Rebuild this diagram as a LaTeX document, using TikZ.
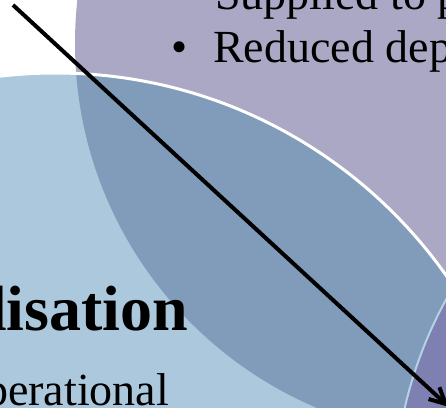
\documentclass[tikz,border=0pt]{standalone}
\usepackage{fontspec}
\setmainfont{Liberation Serif}
\usetikzlibrary{arrows.meta}
\definecolor{lilac}{HTML}{AAA8C5}
\definecolor{paleblue}{HTML}{ACC8DC}
\definecolor{midblue}{HTML}{809CBA}
\definecolor{deeplilac}{HTML}{7F80B2}
\definecolor{rimblue}{HTML}{B4D2E2}
\tikzset{
  bodytext/.style   = {anchor=base west, inner sep=0pt,
                       font=\fontsize{46}{55}\selectfont},
  headtext/.style   = {anchor=base west, inner sep=0pt,
                       font=\fontsize{64}{76}\selectfont\bfseries},
  bulletmark/.style = {anchor=base, inner sep=0pt,
                       font=\fontsize{46}{55}\selectfont},
  pointer/.style    = {line width=4pt, -{Straight Barb[length=16pt, width=16pt]}}
}

\begin{document}
\begin{tikzpicture}[x=1pt, y=-1pt]
  \path[use as bounding box] (0,0) rectangle (446,407);
  \clip (0,0) rectangle (446,407);

  % centres of the three circles
  \coordinate (upper) at (471,43);
  \coordinate (lower) at (55.5,551);
  \coordinate (third) at (817,503);

  \fill[lilac] (upper) circle [radius=396];
  \fill[paleblue] (lower) circle [radius=478];
  \begin{scope}
    \clip (upper) circle [radius=396];
    \fill[midblue] (lower) circle [radius=478];
    \clip (lower) circle [radius=478];
    \fill[deeplilac] (third) circle [radius=423];
  \end{scope}
  \draw[rimblue, line width=2pt] (third) circle [radius=423];
  \draw[white, line width=3pt] (lower) circle [radius=478];

  % texts
  \node[bodytext] (supplied) at (215,9) {Supplied to p};
  \node[bulletmark] (dot) at (180,62) {•};
  \node[bodytext] (reduced) at (213,62) {Reduced dep};
  \node[headtext] (heading) at (-11,330) {lisation};
  \node[bodytext] (operational) at (-38,405) {operational};

  % arrow
  \coordinate (tail) at (13,5);
  \coordinate (head) at (449,407);
  \draw[pointer] (tail) -- (head);
\end{tikzpicture}
\end{document}
